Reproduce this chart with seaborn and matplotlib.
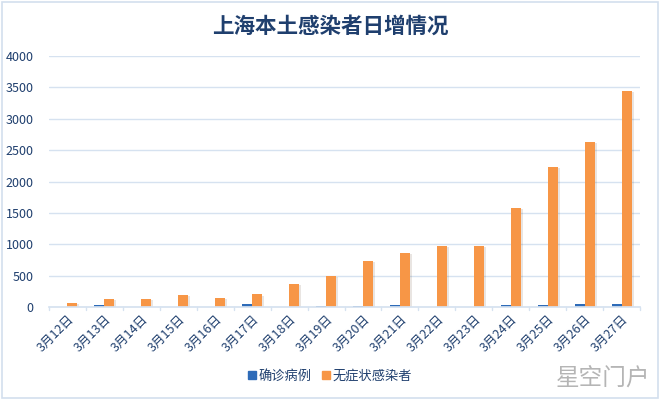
import matplotlib.pyplot as plt
import matplotlib.patheffects as pe
from matplotlib.patches import Rectangle
import seaborn as sns
import pandas as pd

# 上海本土感染者每日新增 (3月12日 - 3月27日)
dates = ['3月12日', '3月13日', '3月14日', '3月15日', '3月16日', '3月17日', '3月18日', '3月19日',
         '3月20日', '3月21日', '3月22日', '3月23日', '3月24日', '3月25日', '3月26日', '3月27日']
confirmed = [1, 41, 9, 5, 8, 57, 8, 17, 24, 31, 4, 4, 29, 38, 45, 50]
asymptomatic = [64, 128, 130, 197, 150, 203, 366, 492, 734, 865, 977, 979, 1580, 2231, 2631, 3450]
series_names = ['确诊病例', '无症状感染者']

data = pd.DataFrame({
    'date': dates * 2,
    'count': confirmed + asymptomatic,
    'type': [series_names[0]] * len(dates) + [series_names[1]] * len(dates),
})

text_color = '#1F3F6E'
palette = {series_names[0]: '#2E6BB8', series_names[1]: '#F79646'}

sns.set_theme(style='white')
plt.rcParams['font.family'] = ['Noto Sans CJK SC', 'DejaVu Sans']

fig = plt.figure(figsize=(6.6, 4), dpi=100)
ax = fig.add_axes([0.074, 0.232, 0.896, 0.628])

sns.barplot(data=data, x='date', y='count', hue='type', palette=palette,
            width=0.55, saturation=1, ax=ax, legend=False)

for bar in ax.patches:
    bar.set_linewidth(0)
    bar.set_path_effects([pe.SimplePatchShadow(offset=(1.2, -0.8), alpha=0.12), pe.Normal()])

ax.set_ylim(0, 4000)
ax.set_yticks(range(0, 4001, 500))
ax.set_xlim(-0.5, len(dates) - 0.5)
ax.yaxis.grid(True, color='#D6E2F0', linewidth=1)
ax.set_axisbelow(True)
for side in ['top', 'right', 'left']:
    ax.spines[side].set_visible(False)
ax.spines['bottom'].set_color('#D6E2F0')
ax.set_xlabel('')
ax.set_ylabel('')

ax.tick_params(axis='y', length=0, labelsize=9, colors=text_color, pad=11)
ax.tick_params(axis='x', length=0, labelsize=9, colors=text_color, pad=4)
plt.setp(ax.get_xticklabels(), rotation=45, ha='right', rotation_mode='anchor')
# category separators under the axis
for i in range(len(dates) + 1):
    ax.plot([i - 0.5, i - 0.5], [0, -0.012], transform=ax.get_xaxis_transform(),
            color='#D6E2F0', linewidth=1, clip_on=False)

fig.text(0.5, 0.935, '上海本土感染者日增情况', ha='center', va='center',
         fontsize=15.5, fontweight='bold', color=text_color)

# legend
handles = [Rectangle((0, 0), 1, 1, color=palette[n]) for n in series_names]
fig.legend(handles, series_names, loc='center', bbox_to_anchor=(0.5, 0.06), ncol=2,
           frameon=False, fontsize=9.5, handlelength=0.6, handleheight=0.6,
           handletextpad=0.2, columnspacing=0.8, labelcolor=text_color)

fig.text(0.985, 0.055, '星空门户', ha='right', va='center', fontsize=17, color='#B5B5B5')

fig.patches.append(Rectangle((0.003, 0.004), 0.994, 0.992, transform=fig.transFigure,
                             fill=False, edgecolor='#D3DFEE', linewidth=1.2))

plt.savefig('out.png', dpi=100)
